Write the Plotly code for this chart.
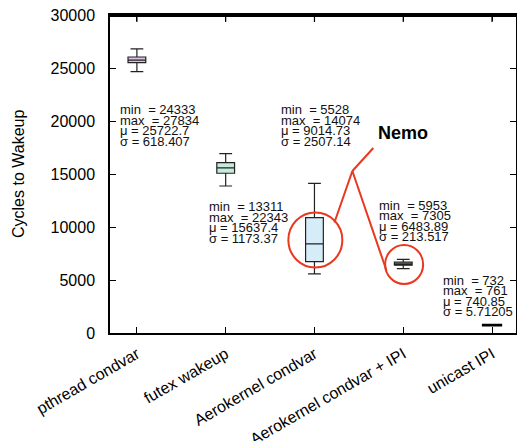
import plotly.graph_objects as go

categories = ["pthread condvar", "futex wakeup", "Aerokernel condvar",
              "Aerokernel condvar + IPI", "unicast IPI"]
lower_whisker = [24650, 13870, 5570, 6070, 732]
q1_vals = [25500, 15070, 6730, 6390, 738]
median_vals = [25750, 15570, 8400, 6500, 741]
q3_vals = [26040, 16070, 10880, 6700, 745]
upper_whisker = [26800, 16920, 14120, 6950, 761]

stat_min = ["24333", "13311", "5528", "5953", "732"]
stat_max = ["27834", "22343", "14074", "7305", "761"]
stat_mean = ["25722.7", "15637.4", "9014.73", "6483.89", "740.85"]
stat_std = ["618.407", "1173.37", "2507.14", "213.517", "5.71205"]

fill_colors = ["#dcc0e6", "#c6eadb", "#d6ecf8", "#7a7467", "#000000"]

# text block anchor positions (data units)
label_x = [-0.213, 0.787, 1.596, 2.708, 3.427]
label_y = [21040, 11890, 21040, 12075, 5000]

FONT = "Liberation Sans, Arial, sans-serif"

fig = go.Figure()
for i, c in enumerate(categories):
    fig.add_trace(go.Box(
        x=[i], q1=[q1_vals[i]], median=[median_vals[i]], q3=[q3_vals[i]],
        lowerfence=[lower_whisker[i]], upperfence=[upper_whisker[i]],
        fillcolor=fill_colors[i],
        line=dict(color="#222222" if i < 4 else "#000000", width=1.2 if i < 4 else 2.5),
        width=0.2, whiskerwidth=0.72, boxpoints=False, showlegend=False,
        hoverinfo="skip",
    ))

NB = "\u00a0"
annotations = []
for i in range(len(categories)):
    lines = ["min" + NB + NB + "= " + stat_min[i],
             "max" + NB + NB + "= " + stat_max[i],
             "\u03bc = " + stat_mean[i],
             "\u03c3 = " + stat_std[i]]
    for j, t in enumerate(lines):
        annotations.append(dict(
            x=label_x[i], y=label_y[i], xref="x", yref="y", text=t,
            showarrow=False, xanchor="left", yanchor="middle",
            yshift=-10.5 * j,
            font=dict(family=FONT, size=13, color="#111111"),
        ))

annotations.append(dict(
    x=3.0, y=18870, xref="x", yref="y", text="<b>Nemo</b>", showarrow=False,
    xanchor="center", yanchor="middle",
    font=dict(family=FONT, size=18, color="#000000"),
))

annotations.append(dict(
    x=0, y=0.5, xref="paper", yref="paper", text="Cycles to Wakeup", showarrow=False,
    textangle=-90, xanchor="center", yanchor="middle", xshift=-92,
    font=dict(family=FONT, size=16, color="#000000"),
))

red = "#e8381e"
shapes = [
    # top border of the plotting area, drawn just inside the top edge
    dict(type="line", xref="paper", yref="paper", ysizemode="pixel", yanchor=1,
         x0=0, x1=1, y0=-1, y1=-1,
         line=dict(color="#000000", width=2), layer="above"),
    dict(type="circle", xref="x", yref="y", xsizemode="pixel", ysizemode="pixel",
         xanchor=2.01, yanchor=8774, x0=-27, x1=27, y0=-27.5, y1=27.5,
         line=dict(color=red, width=2)),
    dict(type="circle", xref="x", yref="y", xsizemode="pixel", ysizemode="pixel",
         xanchor=3.01, yanchor=6462, x0=-19, x1=19, y0=-19.5, y1=19.5,
         line=dict(color=red, width=2)),
    dict(type="line", xref="x", yref="y", x0=2.663, y0=17453, x1=2.427, y1=15283,
         line=dict(color=red, width=2)),
    dict(type="line", xref="x", yref="y", x0=2.427, y0=15283, x1=2.225, y1=10425,
         line=dict(color=red, width=2)),
    dict(type="line", xref="x", yref="y", x0=2.427, y0=15283, x1=2.809, y1=5943,
         line=dict(color=red, width=2)),
]
# top tick marks (mirror of the category ticks)
for i in range(len(categories)):
    shapes.append(dict(type="line", xref="x", yref="paper", ysizemode="pixel",
                       yanchor=1, x0=i, x1=i, y0=-1, y1=-7,
                       line=dict(color="#000000", width=1.2), layer="above"))

fig.update_layout(
    width=517, height=441,
    margin=dict(l=110, r=1, t=15, b=108),
    plot_bgcolor="white", paper_bgcolor="white",
    font=dict(family=FONT, color="#000000"),
    annotations=annotations, shapes=shapes,
    xaxis=dict(
        range=[-0.303, 4.27], tickmode="array", tickvals=list(range(len(categories))),
        ticktext=categories, tickangle=-30, tickfont=dict(size=16),
        automargin=False, ticklabelstandoff=4,
        showline=True, linecolor="#000000", linewidth=1.5, mirror="ticks",
        ticks="inside", ticklen=6, tickcolor="#000000", showgrid=False, zeroline=False,
    ),
    yaxis=dict(
        range=[0, 30000], tickvals=[0, 5000, 10000, 15000, 20000, 25000, 30000],
        tickformat="d", tickfont=dict(size=16), automargin=False, ticklabelstandoff=10,
        ticklabeloverflow="allow",
        showline=True, linecolor="#000000", linewidth=1.5, mirror="ticks",
        ticks="inside", ticklen=6, tickcolor="#000000", showgrid=False, zeroline=False,
    ),
)

fig.write_html(
    "out.html",
    config={"displayModeBar": False},
    post_script="document.body.style.margin='0';document.body.style.overflow='hidden';",
)
